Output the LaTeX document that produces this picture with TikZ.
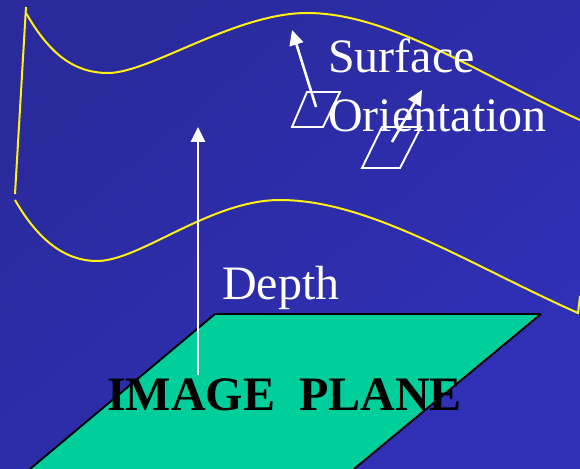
\documentclass[tikz,border=0pt]{standalone}
\usepackage{fontspec}
\setmainfont{Liberation Serif}
\definecolor{bgA}{RGB}{42,42,156}
\definecolor{bgB}{RGB}{48,48,184}
\definecolor{planeFill}{RGB}{0,206,155}
\definecolor{curveYellow}{RGB}{255,240,20}
\usetikzlibrary{arrows.meta}
\tikzset{
  curve/.style={curveYellow,line width=2bp},
  whiteline/.style={white,line width=1.9bp},
  whitearrow/.style={white,line width=2.6bp,-{Triangle[length=15bp,width=14bp]}},
  label/.style={white,font=\fontsize{48bp}{50bp}\selectfont,inner sep=0pt,anchor=base west},
  boldlabel/.style={black,font=\fontsize{48bp}{50bp}\selectfont\bfseries,inner sep=0pt,anchor=base west}
}
\begin{document}
\begin{tikzpicture}[x=1bp,y=-1bp]
\useasboundingbox (0,0) rectangle (580,469);
\shade[top color=bgA,bottom color=bgB,shading angle=40] (0,0) rectangle (580,469);
% image plane
\fill[planeFill] (215,314) -- (541,314) -- (354,469) -- (30,469) -- cycle;
\draw[black,line width=1.9bp] (30,469) -- (215,314);
\draw[black,line width=2.6bp] (215,314) -- (541,314);
\draw[black,line width=1.9bp] (541,314) -- (354,469);
% surface
\draw[curve] (26,7) -- (15,194);
\draw[curve] (26,13) .. controls (50,55) and (75,73) .. (108,73)
  .. controls (150,73) and (235,13) .. (307,13)
  .. controls (390,13) and (480,75) .. (580,120);
\draw[curve] (15,200) .. controls (38,240) and (65,261) .. (97,261)
  .. controls (140,261) and (210,200) .. (280,200)
  .. controls (370,200) and (470,265) .. (578,313) -- (580,296);
% patches
\draw[whiteline] (292,127) -- (307,92) -- (340,92) -- (323,127) -- cycle;
\draw[whiteline] (362,168) -- (382,127) -- (421,127) -- (400,168) -- cycle;
% depth arrow
\coordinate (d0) at (198,375);
\coordinate (d1) at (198,127);
\draw[whitearrow] (d0) -- (d1);
% normals
\coordinate (n0) at (316,107);
\coordinate (n1) at (292,30);
\coordinate (m0) at (392,142);
\coordinate (m1) at (422,90);
\draw[whitearrow] (n0) -- (n1);
\draw[whitearrow] (m0) -- (m1);
% labels
\node[label] (surf) at (328,73) {Surface};
\node[label] (orient) at (328,132) {Orientation};
\node[label] (depth) at (222,299) {Depth};
\node[boldlabel] (plane) at (107,410) {IMAGE\ \ PLANE};
\end{tikzpicture}
\end{document}
